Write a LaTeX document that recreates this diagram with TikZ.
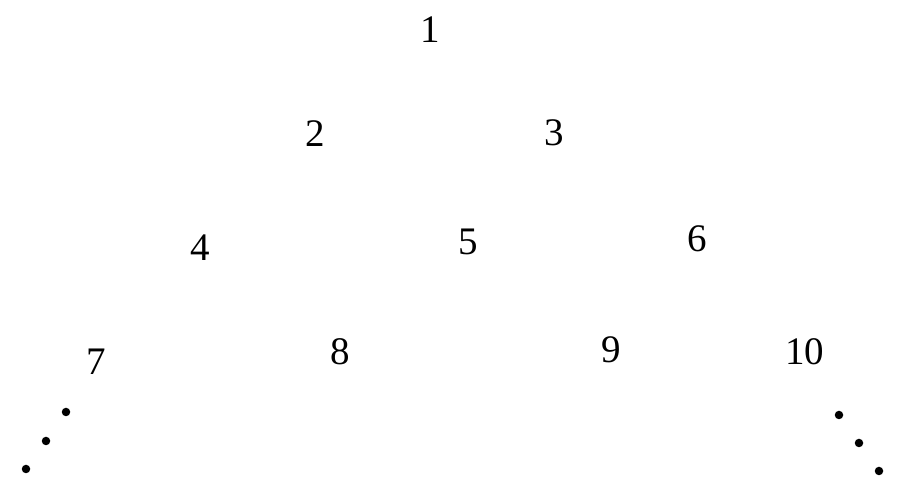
\documentclass[tikz,border=0pt]{standalone}
\usepackage{fontspec}
\setmainfont{Liberation Serif}
\usepackage{tikz}

\begin{document}
\begin{tikzpicture}[x=1pt, y=1pt,
  num/.style={inner sep=0pt, font=\fontsize{39}{39}\selectfont},
  dot/.style={shape=circle, fill=black, inner sep=0pt, minimum size=8.5pt}]
\useasboundingbox (0, 0) rectangle (900, 494);
\node at (430, 464.5) [num] (n1) {1};
\node at (315.5, 360.5) [num] (n2) {2};
\node at (554, 361.5) [num] (n3) {3};
\node at (200.5, 246) [num] (n4) {4};
\node at (468, 252.5) [num] (n5) {5};
\node at (697, 255.5) [num] (n6) {6};
\node at (96.5, 132.5) [num] (n7) {7};
\node at (340, 142) [num] (n8) {8};
\node at (611, 144.5) [num] (n9) {9};
\node at (804.5, 142) [num] (n10) {10};
\node at (66, 82) [dot] (l1) {};
\node at (46, 53) [dot] (l2) {};
\node at (26, 25) [dot] (l3) {};
\node at (839, 79) [dot] (r1) {};
\node at (859, 51) [dot] (r2) {};
\node at (879, 23) [dot] (r3) {};
\end{tikzpicture}
\end{document}
